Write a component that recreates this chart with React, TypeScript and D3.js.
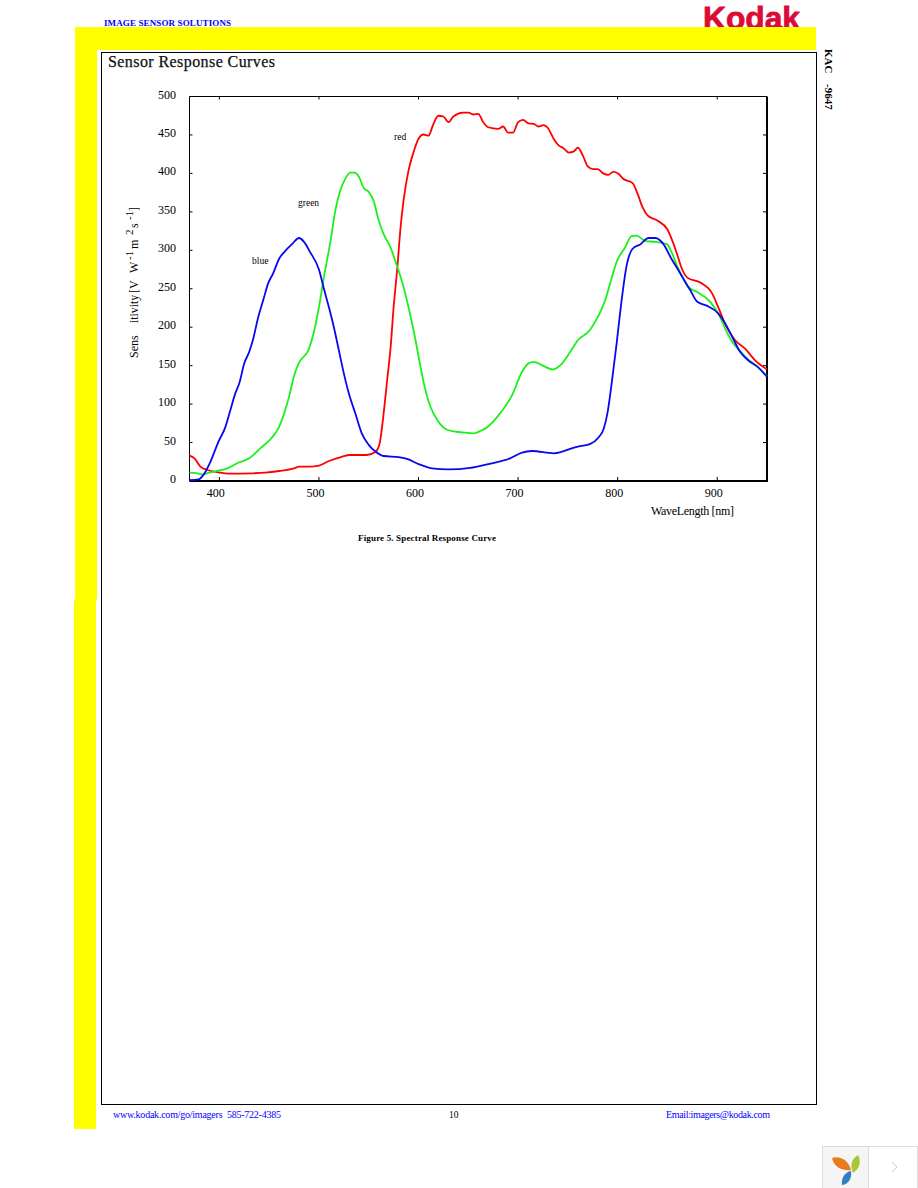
import React from 'react';
import * as d3 from 'd3';

// values: [wavelength nm, sensitivity]
const redCurve: [number, number][] = [
  [370, 33], [375, 29.5], [381, 18.6], [388, 14.3], [399, 11.3], [409, 9.5], [433, 10], [446, 10.8], [460, 13], [475, 16.5],
  [480, 18.6], [491, 18.6], [500, 19.9], [510, 26], [523, 31.5], [531, 33.8], [548, 33.8], [557, 38], [561, 49], [565, 88],
  [568.5, 131], [572, 174], [575, 226], [578.5, 274], [582, 330], [585, 365], [590, 404], [595, 427.6], [600, 445], [605, 450.6],
  [610, 449], [615, 464.5], [620, 475], [625, 474], [630, 466.6], [635, 474], [645, 479], [650, 479], [655, 476.6], [660, 477.5],
  [665, 466.6], [670, 460], [680, 458], [685, 461], [690, 453], [695, 453], [700, 466.6], [705, 469.7], [710.5, 465], [715.6, 464.5],
  [720.6, 461], [725.6, 462.7], [730, 459], [735.7, 445], [740.7, 436.4], [745, 433.4], [751, 427], [756, 428.6], [760, 433.4], [765, 423.4],
  [770, 409], [775, 405.6], [780, 405.6], [785.5, 400], [790.5, 398], [795.5, 402], [800.5, 400], [805.5, 393], [815, 387.4], [820, 373.6],
  [825, 356], [830, 345.4], [839.5, 339], [850, 327], [856, 308.7], [859.5, 295.7], [864.5, 276], [870, 264.5], [883, 258], [895, 243.7],
  [901, 226], [909.5, 200], [918, 183], [928, 172], [938, 157], [950, 145],
];

const greenCurve: [number, number][] = [
  [370, 11], [378, 10], [383, 8.7], [391, 11.3], [399, 13.4], [408, 16.5], [419.5, 24], [430, 29.5], [441, 42.5], [453.5, 57.5],
  [460, 70.5], [464.5, 85.7], [470, 109.5], [474.6, 135], [479.6, 153], [490, 172], [495, 194], [500, 226], [505, 265], [511.5, 311],
  [516.5, 352], [521.5, 378], [526.5, 393], [531.5, 401], [535.5, 401], [540, 396], [545, 381], [550, 376], [555, 364], [560, 339],
  [565, 321], [572, 303.5], [577, 285], [583.5, 259], [590, 226], [597, 183], [602, 148.4], [607, 118], [612, 96.5], [619, 79],
  [630, 66], [645.5, 63], [655.5, 62], [662, 65], [669, 70], [680.5, 85.7], [694, 111.7], [704, 142], [710.5, 153], [716, 155],
  [724, 150.6], [735, 145], [742.5, 150.6], [752.4, 168], [760, 183], [772, 196], [781, 215.6], [787.5, 235], [792.5, 257], [799, 285],
  [807.6, 304], [814, 318.5], [819, 319], [828, 312], [838, 311], [849.5, 308], [854, 298], [859.5, 280.5], [866, 263], [871, 252],
  [879.5, 246], [893, 233], [901, 218], [909.5, 194], [916, 179], [923, 169], [931, 158], [940, 149], [950, 136],
];

const blueCurve: [number, number][] = [
  [370, 1], [379, 2], [384, 8], [391, 25], [399, 51], [406, 70], [411, 92], [416, 114], [420, 127], [425, 153],
  [430, 168], [434, 185], [439, 213], [444, 235], [449, 257], [454, 270], [460, 289], [466, 299], [473, 308], [480, 316],
  [485, 311], [491, 298], [500, 275], [505, 250], [510, 226], [515, 200], [520, 170], [525, 140], [530, 114], [536.5, 88],
  [543, 62], [550, 47], [557, 38], [565, 32.5], [580, 31], [590, 28], [600, 22], [613.5, 16.5], [630, 15], [652, 17],
  [669, 21.7], [692, 29.5], [704, 37], [714, 39], [736, 36], [759, 44.5], [772, 48], [781, 57], [786, 68], [790, 90],
  [794, 127], [799, 179], [804, 235], [809, 280], [815, 302], [823, 308], [831, 316], [838, 316], [846, 308], [854, 289],
  [861, 274], [866, 263], [873, 248], [880, 233], [889.5, 228], [901, 218], [908, 205], [916, 185], [923, 168], [931, 157],
  [940, 149], [950, 135.5],
];

const xTicks = [400, 500, 600, 700, 800, 900];
const yTicks = [0, 50, 100, 150, 200, 250, 300, 350, 400, 450, 500];

const serif = '"Liberation Serif", "Times New Roman", serif';
const sans = '"Liberation Sans", Arial, sans-serif';

export default function App() {
  const xScale = d3.scaleLinear().domain([370, 950]).range([189.5, 767]);
  const yScale = d3.scaleLinear().domain([0, 500]).range([481, 96.5]);
  const line = d3.line<[number, number]>()
    .x(d => xScale(d[0]))
    .y(d => yScale(d[1]))
    .curve(d3.curveMonotoneX);

  const left = xScale.range()[0];
  const right = xScale.range()[1];
  const bottom = yScale.range()[0];
  const top = yScale.range()[1];

  return (
    <svg width={918} height={1188} style={{ position: 'absolute', left: 0, top: 0 }} fontFamily={serif}>
      <rect width={918} height={1188} fill="#fff" />

      {/* page header */}
      <text x={703} y={29} fontFamily={sans} fontWeight="bold" fontSize={32} fill="#dc0a36" stroke="#dc0a36" strokeWidth={0.8} textLength={97} lengthAdjust="spacingAndGlyphs">Kodak</text>
      <path d="M75 27H816V50H97V600H96V1129H74V600H75Z" fill="#ffff00" />
      <text x={104} y={26} fontWeight="bold" fontSize={9} fill="#0000ff" textLength={127} lengthAdjust="spacing">IMAGE SENSOR SOLUTIONS</text>
      <rect x={101.5} y={52.5} width={715} height={1052} fill="#fff" stroke="#000" />
      <text x={108} y={67} fontSize={16} fill="#111" stroke="#111" strokeWidth={0.25} textLength={167} lengthAdjust="spacing">Sensor Response Curves</text>
      <text transform="translate(825,49) rotate(90)" fontWeight="bold" fontSize={11} style={{ whiteSpace: 'pre' }}>
        KAC<tspan x={35}>-9647</tspan>
      </text>

      {/* axes frame */}
      <line x1={left} x2={right} y1={top} y2={top} stroke="#000" strokeWidth={1} />
      <line x1={left} x2={left} y1={top} y2={bottom} stroke="#000" strokeWidth={1} />
      <line x1={right} x2={right} y1={top} y2={bottom + 1} stroke="#000" strokeWidth={2} />
      <line x1={left} x2={right + 1} y1={bottom} y2={bottom} stroke="#000" strokeWidth={2} />

      {xTicks.map(t => (
        <g key={t}>
          <line x1={xScale(t)} x2={xScale(t)} y1={bottom} y2={bottom - 4} stroke="#000" />
          <line x1={xScale(t)} x2={xScale(t)} y1={top} y2={top + 3} stroke="#000" />
          <text x={xScale(t) - 3.5} y={497} textAnchor="middle" fontSize={12}>{t}</text>
        </g>
      ))}
      {yTicks.map(t => (
        <g key={t}>
          <line x1={left} x2={left + 3} y1={yScale(t)} y2={yScale(t)} stroke="#000" />
          <line x1={right} x2={right - 4} y1={yScale(t)} y2={yScale(t)} stroke="#000" />
          <text x={176} y={yScale(t) + 2} textAnchor="end" fontSize={12}>{t}</text>
        </g>
      ))}

      {/* curves */}
      <path d={line(redCurve) ?? ''} fill="none" stroke="#ff0000" strokeWidth={1.8} />
      <path d={line(greenCurve) ?? ''} fill="none" stroke="#1cf01c" strokeWidth={1.8} />
      <path d={line(blueCurve) ?? ''} fill="none" stroke="#0808f0" strokeWidth={1.8} />

      <text x={394} y={140} fontSize={9.5}>red</text>
      <text x={298} y={206} fontSize={9.5}>green</text>
      <text x={252} y={264} fontSize={9.5}>blue</text>

      {/* axis titles */}
      <text x={651} y={515} fontSize={12} textLength={83}>WaveLength [nm]</text>
      <g transform="translate(138,358) rotate(-90)" fontSize={12}>
        <text x={0}>Sens</text>
        <text x={35} textLength={28} lengthAdjust="spacingAndGlyphs">itivity</text>
        <text x={65}>[V</text>
        <text x={85}>W</text>
        <text x={98} y={-5} fontSize={11}>-1</text>
        <text x={109}>m</text>
        <text x={123} y={-5} fontSize={11}>2</text>
        <text x={130}>s</text>
        <text x={138} y={-5} fontSize={11}>-1</text>
        <text x={147}>]</text>
      </g>
      <text x={358} y={541} fontWeight="bold" fontSize={9} textLength={138} lengthAdjust="spacing">Figure 5. Spectral Response Curve</text>

      {/* footer */}
      <text x={113} y={1118} fontSize={10} fill="#0000ff" textLength={168} lengthAdjust="spacing" style={{ whiteSpace: 'pre' }}>www.kodak.com/go/imagers  585-722-4385</text>
      <text x={449} y={1118} fontSize={9.5}>10</text>
      <text x={666} y={1118} fontSize={10} fill="#0000ff" textLength={104} lengthAdjust="spacing">Email:imagers@kodak.com</text>

      {/* viewer widget, bottom right */}
      <rect x={822.5} y={1146.5} width={46} height={42} fill="#f5f5f5" stroke="#ddd" />
      <rect x={868.5} y={1146.5} width={49} height={42} fill="#fff" stroke="#ddd" />
      <path d="M832 1158C840 1155 849 1161 851 1170C844 1171 834 1168 832 1158Z" fill="#ea7a1e" />
      <path d="M858 1155C862 1162 859 1169 853 1173C850 1166 851 1159 858 1155Z" fill="#a8c83c" />
      <path d="M842 1185C841 1178 845 1172 851 1171C852 1178 849 1184 842 1185Z" fill="#2f7fc4" />
      <path d="M892 1162L897 1167L892 1172" fill="none" stroke="#ccc" />
    </svg>
  );
}
